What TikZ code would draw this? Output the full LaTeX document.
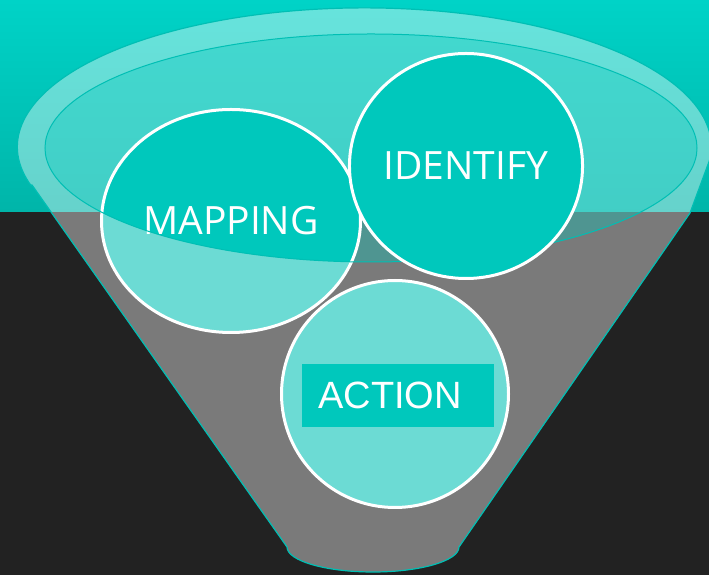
\documentclass[tikz,border=0pt]{standalone}
\usepackage{fontspec}
\setmainfont{Open Sans}
\newfontfamily\actionfont{Liberation Sans}
\usetikzlibrary{shapes.geometric}
\definecolor{teal top}{HTML}{00D3C7}
\definecolor{teal low}{HTML}{00B5A9}
\definecolor{teal fill}{HTML}{00C8BC}
\definecolor{teal light}{HTML}{6CDBD4}
\definecolor{teal line}{HTML}{00BFB4}
\definecolor{dark bg}{HTML}{222222}

\begin{document}
\begin{tikzpicture}[x=1pt,y=1pt]
    \tikzstyle{bubble}=[ellipse,draw=white,line width=3pt,inner sep=0pt,text=white,font=\fontsize{39}{40}\selectfont]
    \tikzstyle{solid bubble}=[bubble,fill=teal fill]
    \tikzstyle{light bubble}=[bubble,fill=teal light]
    \tikzstyle{funnel}=[fill=white,fill opacity=0.4,draw=teal line,line width=1.2pt]

    % Draw the background
    \useasboundingbox (0,0) rectangle (709,575);
    \shade[top color=teal top,bottom color=teal low] (0,363) rectangle (709,575);
    \fill[dark bg] (0,0) rectangle (709,363);

    % Draw the funnel
    \coordinate (rim) at (371,427);
    \path[funnel] (32,390) -- (287,28)
        arc[start angle=180,end angle=360,x radius=86,y radius=25]
        -- (690,362) -- (710,416)
        arc[start angle=-5,end angle=196,x radius=347,y radius=139] -- cycle;
    \fill[teal fill,opacity=0.35] (rim) ellipse[x radius=326,y radius=114];

    % Draw the bubbles
    \node[light bubble,minimum size=227pt] (action) at (395,181) {};
    \node[fill=teal fill,minimum width=192pt,minimum height=63pt] (action box) at (398,179.5) {};
    \node[text=white,font=\actionfont\fontsize{38}{40}\selectfont] (action label) at (390,180) {ACTION};

    % top part of the mapping bubble lies in the rim
    \node[light bubble,minimum width=259pt,minimum height=223pt,
        path picture={\fill[teal fill] (rim) ellipse[x radius=326,y radius=114];}] (mapping) at (231,354) {MAPPING};

    \draw[teal line,line width=1pt] (rim) ellipse[x radius=326,y radius=114];

    \node[solid bubble,minimum size=225pt] (identify) at (466,409) {IDENTIFY};
\end{tikzpicture}
\end{document}
